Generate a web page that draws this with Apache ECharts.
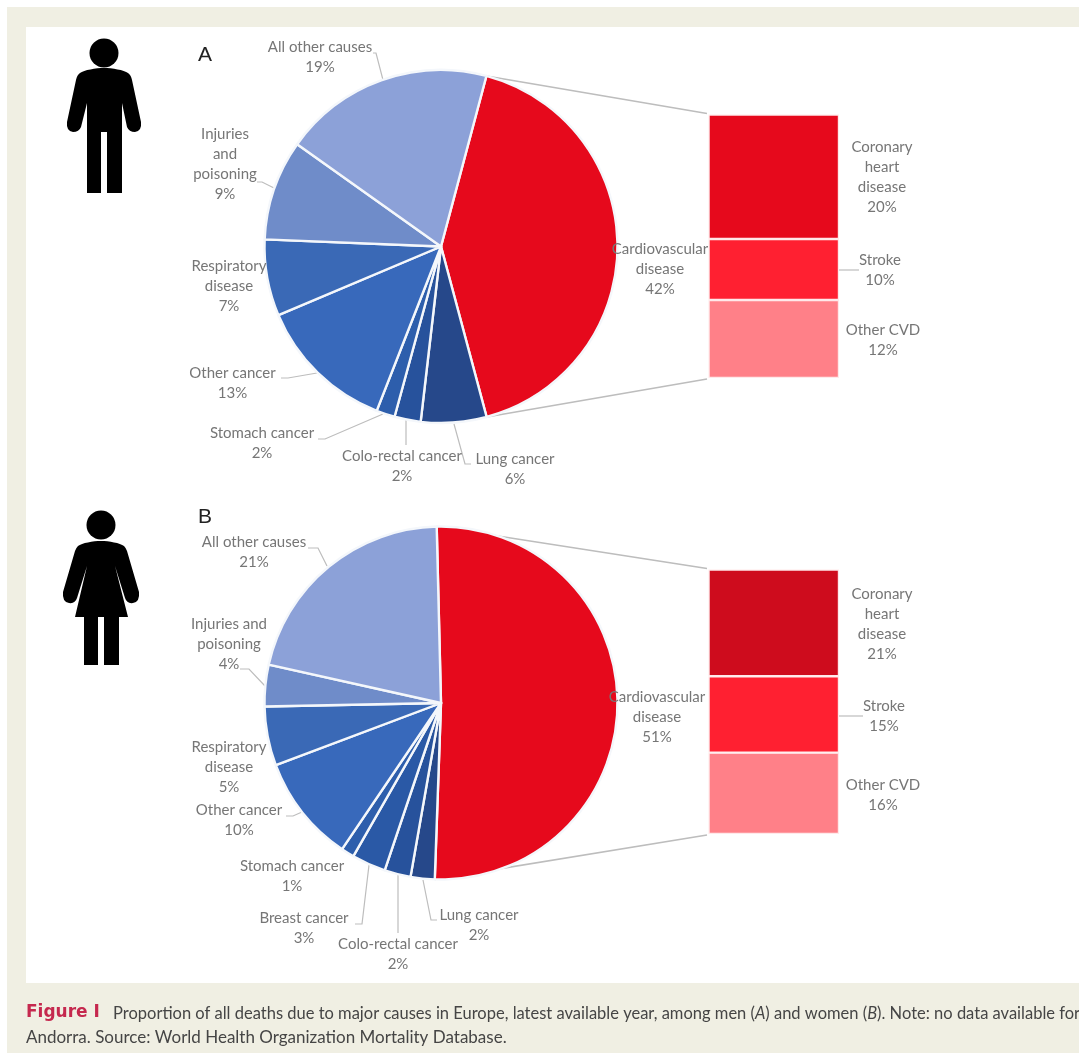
<!DOCTYPE html>
<html><head><meta charset="utf-8">
<style>html,body{margin:0;padding:0;background:#fff}#c{width:1079px;height:1055px}</style>
<script src="https://cdn.jsdelivr.net/npm/echarts@6/dist/echarts.min.js"></script>
</head><body><div id="c"></div>
<script>
// ---- data (slice sizes estimated from the drawn angles; labels print them rounded, as the figure does) ----
const causesA = ['Cardiovascular\ndisease','Lung cancer','Colo-rectal cancer','Stomach cancer','Other cancer','Respiratory\ndisease','Injuries\nand\npoisoning','All other causes'];
const valuesA = [41.7,6.0,2.4,1.7,12.7,7.0,9.2,19.3];
const causesB = ['Cardiovascular\ndisease','Lung cancer','Colo-rectal cancer','Breast cancer','Stomach cancer','Other cancer','Respiratory\ndisease','Injuries and\npoisoning','All other causes'];
const valuesB = [50.9,2.2,2.4,3.1,1.2,9.8,5.4,3.8,21.1];
const cvdCauses = ['Coronary\nheart\ndisease','Stroke','Other CVD'];
const cvdValuesA = [19.8,9.7,12.4];
const cvdValuesB = [21,15,16];

// ---- styles and layout ----
const coloursA = ['#e6091c','#26488a','#27529c','#2d5eac','#3869bb','#3a69b6','#6f8cc9','#8ca1d8'];
const coloursB = ['#e6091c','#26488a','#27529c','#2a59a6','#2d5eac','#3869bb','#3a69b6','#6f8cc9','#8ca1d8'];
const barColoursA = ['#e6091c','#ff2031','#ff8088'];
const barColoursB = ['#ce0c1d','#ff2031','#ff8088'];
const pieR = 176.5;
const centerA = [441,246.5], centerB = [441,703];
const startA = 75.1, startB = 91.4;
const labelPosA = [
  {x:660,y:269},
  {x:515,y:469,line:[[471,464],[465,464],[454,424]]},
  {x:402,y:466,line:[[406,445],[406,420]]},
  {x:262,y:443,line:[[318,439],[325,439],[383,414]]},
  {x:232.5,y:383,line:[[281,378],[288,378],[317,373]]},
  {x:229,y:286},
  {x:225,y:164,line:[[257,182],[262,182],[274,188]]},
  {x:320,y:57,line:[[373,53],[376,53],[383,80]]}
];
const labelPosB = [
  {x:657,y:717},
  {x:479,y:925,line:[[437,920],[431,920],[423,880]]},
  {x:398,y:954,line:[[398,933],[398,875]]},
  {x:304,y:928,line:[[355,924],[362,924],[369,865]]},
  {x:292,y:876},
  {x:239,y:820,line:[[286,816],[293,816],[302,812]]},
  {x:229,y:767},
  {x:229,y:644,line:[[240,669],[249,669],[265,686]]},
  {x:254,y:552.5,line:[[308,548],[318,548],[327,566]]}
];
const barLabelPosA = [{x:882,y:177},{x:880,y:270,line:[[841,269],[854,269]]},{x:883,y:340}];
const barLabelPosB = [{x:882,y:624},{x:884,y:716,line:[[841,715],[851,715]]},{x:883,y:795}];
const textColor = '#767676', lineColor = '#bdbdbd', font = 'Lato';
const labelStyle = {color:textColor,fontFamily:font,fontSize:15,lineHeight:20,align:'center'};

const manPath = 'M104 68C112 68 124 70 128 73Q131 75 132 80L141 122Q142 131 135 132Q129 132 127 127L122 103L122 193L107 193L107 132L101 132L101 193L87 193L87 103L81 127Q79 132 73 132Q66 131 67 122L76 80Q77 75 80 73C84 70 96 68 104 68Z';
const womanPath = 'M101 541C109 541 120 543 124 546Q126 548 127 551L139 592Q140 602 133 603Q127 604 125 598L115 566L128 617L119 617L119 665L104 665L104 617L98 617L98 665L84 665L84 617L75 617L87 566L77 598Q75 604 69 603Q62 602 63 592L75 551Q76 548 78 546C82 543 93 541 101 541Z';
echarts.graphic.registerShape('manIcon',echarts.graphic.extendPath(manPath,{}));
echarts.graphic.registerShape('womanIcon',echarts.graphic.extendPath(womanPath,{}));

function layoutFrom(pos){
  return function(p){
    const q = pos[p.dataIndex];
    const o = {x:q.x,y:q.y,align:'center',verticalAlign:'middle'};
    if(q.line) o.labelLinePoints = q.line;
    return o;
  };
}
function pieSeries(names,values,colours,pos,center,start){
  return {
    type:'pie',center:center,radius:[0,pieR],startAngle:start,clockwise:true,
    avoidLabelOverlap:false,silent:true,z:3,
    label:Object.assign({show:true,position:'outside',formatter:p=>p.name+'\n'+Math.round(p.value)+'%'},labelStyle),
    labelLine:{show:true,lineStyle:{color:lineColor,width:1.2}},
    labelLayout:layoutFrom(pos),
    itemStyle:{borderColor:'#f4f7fb',borderWidth:2.4},
    data:names.map((n,i)=>({name:n,value:values[i],itemStyle:{color:colours[i]},labelLine:{show:!!pos[i].line}}))
  };
}
function barSeries(values,colours,pos,g){
  return cvdCauses.map((n,i)=>({
    type:'bar',name:n,stack:'cvd'+g,xAxisIndex:g,yAxisIndex:g,barWidth:'100%',silent:true,z:4,
    itemStyle:{color:colours[i],borderColor:'#ffe9ea',borderWidth:1.2},
    label:Object.assign({show:true,position:'right',formatter:p=>n+'\n'+Math.round(p.value)+'%'},labelStyle),
    labelLine:{show:!!pos[i].line,lineStyle:{color:lineColor,width:1.2}},
    labelLayout:()=>{const q=pos[i];const o={x:q.x,y:q.y,align:'center',verticalAlign:'middle'};if(q.line)o.labelLinePoints=q.line;return o;},
    data:[values[i]]
  }));
}
const sum = a => a.reduce((s,v)=>s+v,0);
const chart = echarts.init(document.getElementById('c'),null,{renderer:'canvas'});
const captionRich = {
  b:{fontFamily:'DejaVu Sans',fontSize:17,fontWeight:'bold',fill:'#c5284e'},
  n:{fontFamily:font,fontSize:16.5,fill:'#454545'},
  i:{fontFamily:font,fontSize:16.5,fontStyle:'italic',fill:'#454545'},
  m:{fontFamily:font,fontSize:17,fill:'#454545'}
};
chart.setOption({
  animation:false,
  grid:[{left:708.5,top:114.5,width:130.5,height:263.5},{left:708.5,top:569.5,width:130.5,height:264.5}],
  xAxis:[{type:'category',show:false,data:['CVD'],gridIndex:0},{type:'category',show:false,data:['CVD'],gridIndex:1}],
  yAxis:[{type:'value',show:false,inverse:true,min:0,max:sum(cvdValuesA),gridIndex:0},{type:'value',show:false,inverse:true,min:0,max:sum(cvdValuesB),gridIndex:1}],
  series:[
    pieSeries(causesA,valuesA,coloursA,labelPosA,centerA,startA),
    pieSeries(causesB,valuesB,coloursB,labelPosB,centerB,startB)
  ].concat(barSeries(cvdValuesA,barColoursA,barLabelPosA,0),barSeries(cvdValuesB,barColoursB,barLabelPosB,1))
});
function rim(center,start,values,share){
  const a = (start - 360*share/sum(values))*Math.PI/180;
  return [center[0]+pieR*Math.cos(a),center[1]-pieR*Math.sin(a)];
}
function connector(p,q){return {type:'line',z:2,shape:{x1:p[0],y1:p[1],x2:q[0],y2:q[1]},style:{stroke:lineColor,lineWidth:1.6}};}
const aTop = chart.convertToPixel({gridIndex:0},[0,0]), aBot = chart.convertToPixel({gridIndex:0},[0,sum(cvdValuesA)]);
const bTop = chart.convertToPixel({gridIndex:1},[0,0]), bBot = chart.convertToPixel({gridIndex:1},[0,sum(cvdValuesB)]);
const barLeft = 707;
chart.setOption({graphic:{elements:[
  {type:'rect',z:-3,shape:{x:7,y:7,width:1072,height:1046},style:{fill:'#f0efe3'}},
  {type:'rect',z:-2,shape:{x:26,y:27,width:1053,height:956},style:{fill:'#ffffff'}},
  connector(rim(centerA,startA,valuesA,0),[barLeft,aTop[1]-1]),
  connector(rim(centerA,startA,valuesA,valuesA[0]),[barLeft,aBot[1]+1]),
  connector(rim(centerB,startB,valuesB,0),[barLeft,bTop[1]-1]),
  connector(rim(centerB,startB,valuesB,valuesB[0]),[barLeft,bBot[1]+1]),
  {type:'circle',z:5,shape:{cx:104,cy:53,r:14.5},style:{fill:'#000'}},
  {type:'manIcon',z:5,style:{fill:'#000'}},
  {type:'circle',z:5,shape:{cx:101,cy:525,r:14.5},style:{fill:'#000'}},
  {type:'womanIcon',z:5,style:{fill:'#000'}},
  {type:'text',z:5,x:198,y:45,style:{text:'A',fill:'#222',font:'21px "Liberation Sans"'}},
  {type:'text',z:5,x:198,y:507,style:{text:'B',fill:'#222',font:'21px "Liberation Sans"'}},
  {type:'text',z:5,x:26,y:1004,style:{text:'{b|Figure I}',rich:captionRich}},
  {type:'text',z:5,x:113,y:1005,style:{text:'{n|Proportion of all deaths due to major causes in Europe, latest available year, among men (}{i|A}{n|) and women (}{i|B}{n|). Note: no data available for}',rich:captionRich}},
  {type:'text',z:5,x:26,y:1029,style:{text:'{m|Andorra. Source: World Health Organization Mortality Database.}',rich:captionRich}}
]}});
</script></body></html>
